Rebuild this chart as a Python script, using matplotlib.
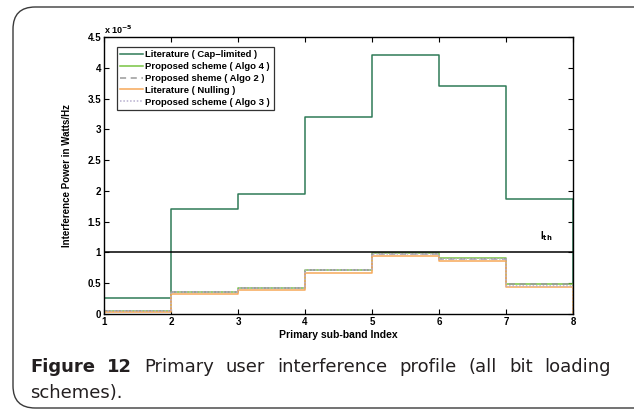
import numpy as np
import matplotlib
matplotlib.use('Agg')
import matplotlib.pyplot as plt
from matplotlib.patches import FancyBboxPatch

# sub-band index and interference power (x 1e-5 W/Hz)
subband = [1, 2, 3, 4, 5, 6, 7, 8]
cap_limited = [0.26, 1.70, 1.95, 3.20, 4.20, 3.70, 1.87, 0.47]
algo4 = [0.05, 0.36, 0.43, 0.72, 0.99, 0.91, 0.48, 0.0]
algo2 = [0.05, 0.36, 0.43, 0.72, 0.98, 0.90, 0.48, 0.0]
nulling = [0.04, 0.32, 0.39, 0.67, 0.94, 0.86, 0.44, 0.0]
algo3 = [0.05, 0.35, 0.42, 0.71, 0.97, 0.89, 0.46, 0.0]
i_th = 1.0

labels = ['Literature ( Cap\u2212limited )', 'Proposed scheme ( Algo 4 )',
          'Proposed sheme ( Algo 2 )', 'Literature ( Nulling )',
          'Proposed scheme ( Algo 3 )']
yticks = [0, 0.5, 1, 1.5, 2, 2.5, 3, 3.5, 4, 4.5]

caption_bold = ['Figure', '12']
caption_line1 = ['Primary', 'user', 'interference', 'profile', '(all', 'bit', 'loading']
caption_line2 = 'schemes).'

plt.rcParams['font.family'] = ['Liberation Sans', 'DejaVu Sans']

fig = plt.figure(figsize=(6.34, 4.11), dpi=100)
ax = fig.add_axes([104/634, 1 - 314/411, 469/634, 277/411])

ax.plot(subband, cap_limited, drawstyle='steps-post', color='#2f7a57', lw=1.1, label=labels[0])
ax.plot(subband, algo4, drawstyle='steps-post', color='#78c442', lw=1.1, label=labels[1])
ax.plot(subband, algo2, drawstyle='steps-post', color='#9a9a9a', lw=1.1, ls=(0, (4, 3)), label=labels[2])
ax.plot(subband, nulling, drawstyle='steps-post', color='#f7a858', lw=1.1, label=labels[3])
ax.plot(subband, algo3, drawstyle='steps-post', color='#b7afcf', lw=1.1, ls=(0, (1, 1.2)), label=labels[4])
ax.plot([subband[0], subband[-1]], [i_th, i_th], color='black', lw=1.1)

ax.text(7.5, 1.22, r'I$_{\mathbf{th}}$', fontsize=7, fontweight='bold')

ax.set_xlim(1, 8)
ax.set_ylim(0, 4.5)
ax.set_xticks(subband)
ax.set_yticks(yticks)
ax.set_yticklabels(['0', '0.5', '1', '1.5', '2', '2.5', '3', '3.5', '4', '4.5'])
ax.tick_params(direction='in', top=True, right=True, length=3.5, width=0.8,
               labelsize=7, pad=2)
for lab in ax.get_xticklabels() + ax.get_yticklabels():
    lab.set_fontweight('bold')
for sp in ax.spines.values():
    sp.set_linewidth(1.0)

ax.text(0.0, 1.005, r'x 10$^{\mathbf{-5}}$', transform=ax.transAxes, fontsize=6.5,
        fontweight='bold', ha='left', va='bottom')
ax.set_xlabel('Primary sub-band Index', fontsize=7.5, fontweight='bold', labelpad=2)
ax.set_ylabel('Interference Power in Watts/Hz', fontsize=7, fontweight='bold', labelpad=11)

leg = ax.legend(loc='upper left', bbox_to_anchor=(0.028, 0.964),
                prop={'weight': 'bold', 'size': 6.8}, frameon=True, fancybox=False,
                handlelength=2.4, handletextpad=0.25, borderpad=0.35, labelspacing=0.3,
                borderaxespad=0)
leg.get_frame().set_edgecolor('black')
leg.get_frame().set_linewidth(0.9)

# rounded frame around figure + caption (right edge runs off the image)
frame = FancyBboxPatch((13/634, 3/411), 1.2, 401/411, transform=fig.transFigure,
                       boxstyle='round,pad=0,rounding_size=0.035', fill=False,
                       edgecolor='#3a3a3a', lw=1.0, mutation_aspect=634/411)
fig.patches.append(frame)

# justified caption line 1: measure words, spread the gaps
renderer = fig.canvas.get_renderer()
x_left, x_right = 30, 611
y1 = 1 - 372/411
words = [(w, 'bold') for w in caption_bold] + [(w, 'normal') for w in caption_line1]
texts = []
for w, wt in words:
    t = fig.text(0, y1, w, fontsize=13, fontweight=wt, family='DejaVu Sans',
                 color='#231f20', ha='left', va='baseline')
    texts.append(t)
widths = [t.get_window_extent(renderer).width for t in texts]
gap = (x_right - x_left - sum(widths)) / (len(words) - 1)
x = x_left
for t, w in zip(texts, widths):
    t.set_x(x / 634)
    x += w + gap

fig.text(x_left/634, 1 - 398/411, caption_line2, fontsize=13, family='DejaVu Sans',
         color='#231f20', ha='left', va='baseline')

fig.savefig('out.png', dpi=100)
